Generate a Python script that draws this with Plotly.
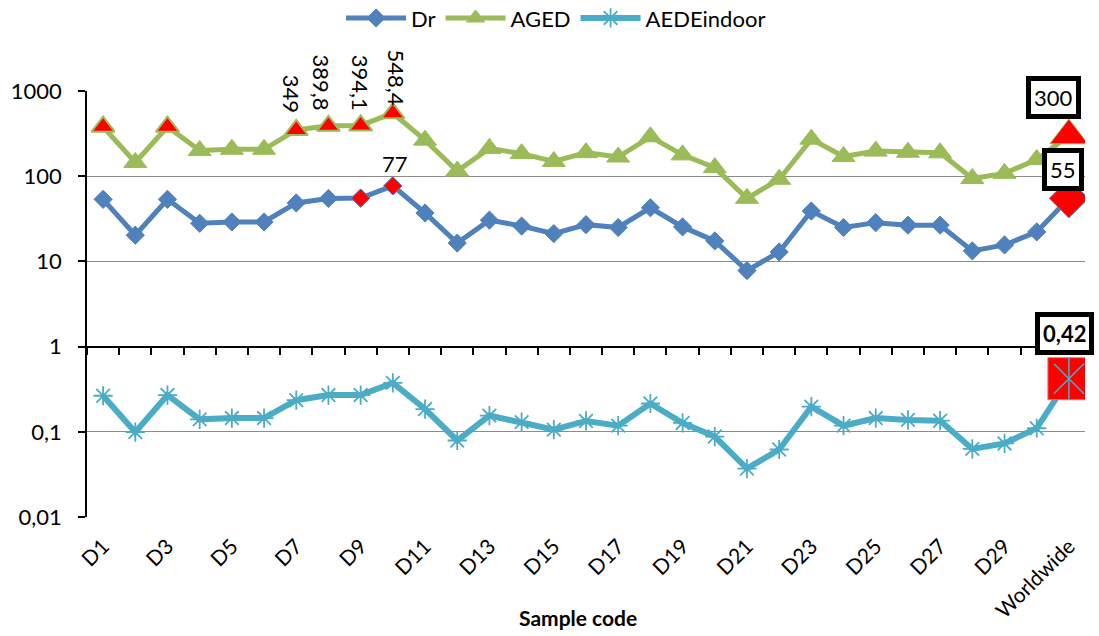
import math
import plotly.graph_objects as go

# ---------------- data ----------------
CATEGORIES = ["D1", "D2", "D3", "D4", "D5", "D6", "D7", "D8", "D9", "D10",
              "D11", "D12", "D13", "D14", "D15", "D16", "D17", "D18", "D19", "D20",
              "D21", "D22", "D23", "D24", "D25", "D26", "D27", "D28", "D29", "D30",
              "Worldwide"]

DR = [53.5, 20.3, 53.5, 28.0, 29.0, 29.0, 48.5, 54.7, 55.3, 77.0,
      37.0, 16.4, 30.5, 26.0, 21.2, 27.0, 25.0, 42.6, 25.4, 17.4,
      7.8, 12.9, 39.0, 25.0, 28.5, 26.6, 26.6, 13.3, 15.6, 22.2,
      55.0]

AGED = [381, 145, 381, 200, 207, 207, 349, 389.8, 394.1, 548.4,
        265, 115, 212, 184, 149, 189, 168, 290, 178, 126,
        55, 92, 272, 170, 197, 191, 188, 94, 108, 157,
        300]

AEDE_INDOOR = [0.265, 0.099, 0.27, 0.14, 0.145, 0.145, 0.235, 0.27, 0.27, 0.375,
               0.185, 0.079, 0.155, 0.13, 0.106, 0.134, 0.118, 0.215, 0.127, 0.088,
               0.037, 0.062, 0.197, 0.118, 0.145, 0.138, 0.135, 0.063, 0.073, 0.11,
               0.42]

SERIES_NAMES = ["Dr", "AGED", "AEDEindoor"]

Y_TICK_VALUES = [0.01, 0.1, 1, 10, 100, 1000]
Y_TICK_LABELS = ["0,01", "0,1", "1", "10", "100", "1000"]
X_TICK_LABELS = ["D1", "D3", "D5", "D7", "D9", "D11", "D13", "D15", "D17", "D19",
                 "D21", "D23", "D25", "D27", "D29", "Worldwide"]

AGED_HIGHLIGHT = ["D1", "D3", "D7", "D8", "D9", "D10"]
DR_HIGHLIGHT = ["D9", "D10"]
AGED_LABELLED = ["D7", "D8", "D9", "D10"]
DR_LABELLED = ["D10"]
REFERENCE = "Worldwide"
X_TITLE = "Sample code"

# ---------------- style ----------------
FONT = "Lato"
BLUE = "#4F81BD"
GREEN = "#9BBB59"
CYAN = "#4BACC6"
RED = "#FF0000"
GRID = "#8C8C8C"


def pick(values, cats):
    return [values[CATEGORIES.index(c)] for c in cats]


def fmt(v):
    return f"{v:g}".replace(".", ",")


fig = go.Figure()

# Dr
fig.add_trace(go.Scatter(
    x=CATEGORIES, y=DR, name=SERIES_NAMES[0], mode="lines+markers",
    line=dict(color=BLUE, width=5),
    marker=dict(symbol="diamond", size=14, color=BLUE, line=dict(color=BLUE, width=1)),
))
fig.add_trace(go.Scatter(
    x=DR_HIGHLIGHT, y=pick(DR, DR_HIGHLIGHT), mode="markers", showlegend=False,
    marker=dict(symbol="diamond", size=14, color=RED, line=dict(color=BLUE, width=1)),
))
fig.add_trace(go.Scatter(
    x=[REFERENCE], y=pick(DR, [REFERENCE]), mode="markers", showlegend=False,
    marker=dict(symbol="diamond", size=30, color=RED, line=dict(color=BLUE, width=1)),
))

# AGED
fig.add_trace(go.Scatter(
    x=CATEGORIES, y=AGED, name=SERIES_NAMES[1], mode="lines+markers",
    line=dict(color=GREEN, width=5),
    marker=dict(symbol="triangle-up", size=20, color=GREEN, line=dict(color=GREEN, width=1)),
))
fig.add_trace(go.Scatter(
    x=AGED_HIGHLIGHT, y=pick(AGED, AGED_HIGHLIGHT), mode="markers", showlegend=False,
    marker=dict(symbol="triangle-up", size=20, color=RED, line=dict(color=GREEN, width=2)),
))
fig.add_trace(go.Scatter(
    x=[REFERENCE], y=pick(AGED, [REFERENCE]), mode="markers", showlegend=False,
    marker=dict(symbol="triangle-up", size=33, color=RED, line=dict(color=GREEN, width=1)),
))

# AEDE indoor
fig.add_trace(go.Scatter(
    x=CATEGORIES, y=AEDE_INDOOR, name=SERIES_NAMES[2], mode="lines+markers",
    line=dict(color=CYAN, width=6),
    marker=dict(symbol="asterisk-open", size=16, color=CYAN, line=dict(color=CYAN, width=1.8)),
))
fig.add_trace(go.Scatter(
    x=[REFERENCE], y=pick(AEDE_INDOOR, [REFERENCE]), mode="markers", showlegend=False,
    marker=dict(symbol="square", size=42, color=RED, line=dict(color="#E87070", width=1)),
))
for sym in ["x-thin-open", "line-ns-open"]:
    fig.add_trace(go.Scatter(
        x=[REFERENCE], y=pick(AEDE_INDOOR, [REFERENCE]), mode="markers", showlegend=False,
        marker=dict(symbol=sym, size=30, color=CYAN, line=dict(color=CYAN, width=1.5)),
    ))

# invisible helper trace for the axis line drawn at y = 1
fig.add_trace(go.Scatter(
    x=CATEGORIES, y=DR, xaxis="x2", mode="lines", opacity=0, showlegend=False,
    hoverinfo="skip", line=dict(width=0),
))

# ---------------- annotations ----------------
annotations = []
aged_shifts = [(-5, 36), (-7, 43), (0, 43), (4, 36)]
for cat, (dx, dy) in zip(AGED_LABELLED, aged_shifts):
    v = pick(AGED, [cat])[0]
    annotations.append(dict(
        x=cat, y=math.log10(v), xref="x", yref="y", text=fmt(v), showarrow=False,
        textangle=90, xanchor="center", yanchor="middle", xshift=dx, yshift=dy,
        font=dict(family=FONT, size=22, color="black"),
    ))
for cat in DR_LABELLED:
    v = pick(DR, [cat])[0]
    annotations.append(dict(
        x=cat, y=math.log10(v), xref="x", yref="y", text=fmt(v), showarrow=False,
        xanchor="center", yanchor="middle", xshift=2, yshift=22,
        font=dict(family=FONT, size=22, color="black"),
    ))

box_specs = [
    (AGED, -15, 38, False),
    (DR, -6, 29, False),
    (AEDE_INDOOR, -4, 45, True),
]
for values, dx, dy, bold in box_specs:
    v = pick(values, [REFERENCE])[0]
    txt = fmt(v)
    if bold:
        txt = f"<b>{txt}</b>"
    annotations.append(dict(
        x=REFERENCE, y=math.log10(v), xref="x", yref="y", text=txt, showarrow=False,
        xanchor="center", yanchor="middle", xshift=dx, yshift=dy,
        bgcolor="white", bordercolor="black", borderwidth=5, borderpad=3,
        font=dict(family=FONT, size=22, color="black"),
    ))

annotations.append(dict(
    x=0.492, y=-0.237, xref="paper", yref="paper", text=f"<b>{X_TITLE}</b>",
    showarrow=False, xanchor="center", yanchor="middle",
    font=dict(family=FONT, size=21, color="black"),
))

# ---------------- layout ----------------
fig.update_layout(
    width=1099, height=636, autosize=False,
    margin=dict(l=87, r=14, t=91, b=119, autoexpand=False),
    paper_bgcolor="white", plot_bgcolor="white",
    font=dict(family=FONT, size=22, color="black"),
    showlegend=True,
    legend=dict(orientation="h", x=0.47, xanchor="center", y=1.171, yanchor="middle",
                font=dict(family=FONT, size=22, color="black"),
                itemwidth=60, bgcolor="rgba(0,0,0,0)"),
    annotations=annotations,
    xaxis=dict(
        type="category", categoryorder="array", categoryarray=CATEGORIES,
        range=[-0.5, len(CATEGORIES) - 0.5],
        showline=False, showgrid=False, zeroline=False, ticks="",
        tickmode="array", tickvals=X_TICK_LABELS, ticktext=X_TICK_LABELS,
        tickangle=-45, tickfont=dict(family=FONT, size=21, color="black"),
        ticklabelstandoff=12,
    ),
    xaxis2=dict(
        type="category", categoryorder="array", categoryarray=CATEGORIES,
        overlaying="x", anchor="free", position=0.4,
        range=[-0.5, len(CATEGORIES) - 0.5],
        showline=True, linecolor="black", linewidth=1.5,
        ticks="outside", ticklen=8, tickwidth=1.5, tickcolor="black",
        tickson="boundaries", dtick=1, tick0=0,
        showticklabels=False, showgrid=False, zeroline=False,
    ),
    yaxis=dict(
        type="log", range=[-2, 3],
        tickmode="array", tickvals=Y_TICK_VALUES, ticktext=Y_TICK_LABELS,
        showline=True, linecolor="black", linewidth=1.5,
        ticks="outside", ticklen=7, tickwidth=1.5, tickcolor="black",
        showgrid=True, gridcolor=GRID, gridwidth=1.4, zeroline=False,
        tickfont=dict(family=FONT, size=22, color="black"),
        ticklabelstandoff=12,
    ),
)

fig.write_html("out.html", config={"displayModeBar": False},
               post_script="document.body.style.margin='0';document.body.style.padding='0';")
